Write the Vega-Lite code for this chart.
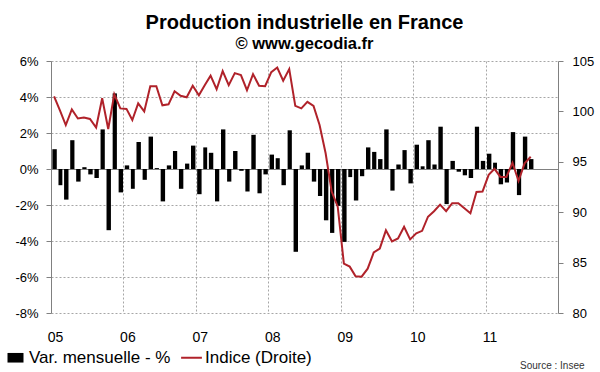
{
  "$schema": "https://vega.github.io/schema/vega-lite/v6.json",
  "width": 507,
  "height": 252,
  "autosize": "none",
  "padding": {"left": 51, "top": 61, "right": 42, "bottom": 59},
  "background": "white",
  "title": {
    "text": "Production industrielle en France",
    "subtitle": "© www.gecodia.fr",
    "anchor": "middle",
    "frame": "group",
    "font": "Liberation Sans",
    "fontSize": 20,
    "fontWeight": "bold",
    "color": "#000000",
    "subtitleFont": "Liberation Sans",
    "subtitleFontSize": 16.5,
    "subtitleFontWeight": "bold",
    "subtitleColor": "#000000",
    "subtitlePadding": 3,
    "offset": 3
  },
  "config": {
    "view": {"stroke": null},
    "axis": {
      "labelFont": "Liberation Sans",
      "labelColor": "#000000",
      "domainColor": "#808080",
      "tickColor": "#808080",
      "gridColor": "#a6a6a6",
      "gridDash": [2, 2]
    }
  },
  "data": {
    "values": [
      {"date": "2005-01-01", "var": 1.1, "idx": 101.5},
      {"date": "2005-02-01", "var": -0.9, "idx": 100.1},
      {"date": "2005-03-01", "var": -1.7, "idx": 98.65},
      {"date": "2005-04-01", "var": 1.6, "idx": 100.2},
      {"date": "2005-05-01", "var": -0.7, "idx": 99.3},
      {"date": "2005-06-01", "var": 0.1, "idx": 99.4},
      {"date": "2005-07-01", "var": -0.3, "idx": 99.25},
      {"date": "2005-08-01", "var": -0.5, "idx": 98.4},
      {"date": "2005-09-01", "var": 2.2, "idx": 101.3},
      {"date": "2005-10-01", "var": -3.4, "idx": 98.25},
      {"date": "2005-11-01", "var": 4.2, "idx": 101.7},
      {"date": "2005-12-01", "var": -1.3, "idx": 100.3},
      {"date": "2006-01-01", "var": 0.2, "idx": 100.25},
      {"date": "2006-02-01", "var": -1.1, "idx": 99.15},
      {"date": "2006-03-01", "var": 1.5, "idx": 100.8},
      {"date": "2006-04-01", "var": -0.6, "idx": 100.0},
      {"date": "2006-05-01", "var": 1.8, "idx": 102.5},
      {"date": "2006-06-01", "var": 0.05, "idx": 102.5},
      {"date": "2006-07-01", "var": -1.8, "idx": 100.6},
      {"date": "2006-08-01", "var": 0.2, "idx": 100.7},
      {"date": "2006-09-01", "var": 1.0, "idx": 102.0},
      {"date": "2006-10-01", "var": -1.1, "idx": 101.55},
      {"date": "2006-11-01", "var": 0.3, "idx": 101.4},
      {"date": "2006-12-01", "var": 1.3, "idx": 102.55},
      {"date": "2007-01-01", "var": -1.4, "idx": 101.6},
      {"date": "2007-02-01", "var": 1.2, "idx": 102.6},
      {"date": "2007-03-01", "var": 0.9, "idx": 103.55},
      {"date": "2007-04-01", "var": -1.8, "idx": 102.2},
      {"date": "2007-05-01", "var": 2.2, "idx": 104.0},
      {"date": "2007-06-01", "var": -0.7, "idx": 102.6},
      {"date": "2007-07-01", "var": 1.0, "idx": 103.8},
      {"date": "2007-08-01", "var": -0.1, "idx": 103.6},
      {"date": "2007-09-01", "var": -1.25, "idx": 102.1},
      {"date": "2007-10-01", "var": 1.9, "idx": 103.7},
      {"date": "2007-11-01", "var": -1.35, "idx": 102.55},
      {"date": "2007-12-01", "var": -0.3, "idx": 102.5},
      {"date": "2008-01-01", "var": 0.8, "idx": 103.9},
      {"date": "2008-02-01", "var": 0.6, "idx": 104.35},
      {"date": "2008-03-01", "var": -0.9, "idx": 103.05},
      {"date": "2008-04-01", "var": 2.15, "idx": 104.2},
      {"date": "2008-05-01", "var": -4.6, "idx": 100.55},
      {"date": "2008-06-01", "var": 0.2, "idx": 100.3},
      {"date": "2008-07-01", "var": 0.9, "idx": 100.95},
      {"date": "2008-08-01", "var": -0.7, "idx": 100.55},
      {"date": "2008-09-01", "var": -1.5, "idx": 98.65},
      {"date": "2008-10-01", "var": -2.85, "idx": 95.85},
      {"date": "2008-11-01", "var": -3.55, "idx": 92.05},
      {"date": "2008-12-01", "var": -2.05, "idx": 90.55},
      {"date": "2009-01-01", "var": -4.05, "idx": 84.9},
      {"date": "2009-02-01", "var": -0.45, "idx": 84.6},
      {"date": "2009-03-01", "var": -1.75, "idx": 83.65},
      {"date": "2009-04-01", "var": -0.4, "idx": 83.6},
      {"date": "2009-05-01", "var": 1.2, "idx": 84.4},
      {"date": "2009-06-01", "var": 0.95, "idx": 86.0},
      {"date": "2009-07-01", "var": 0.55, "idx": 86.4},
      {"date": "2009-08-01", "var": 2.2, "idx": 88.2},
      {"date": "2009-09-01", "var": -1.2, "idx": 87.1},
      {"date": "2009-10-01", "var": 0.25, "idx": 87.4},
      {"date": "2009-11-01", "var": 1.05, "idx": 88.55},
      {"date": "2009-12-01", "var": -0.8, "idx": 87.3},
      {"date": "2010-01-01", "var": 1.35, "idx": 87.9},
      {"date": "2010-02-01", "var": 0.15, "idx": 88.15},
      {"date": "2010-03-01", "var": 1.6, "idx": 89.55},
      {"date": "2010-04-01", "var": 0.25, "idx": 90.1},
      {"date": "2010-05-01", "var": 2.35, "idx": 90.75},
      {"date": "2010-06-01", "var": -1.95, "idx": 90.1},
      {"date": "2010-07-01", "var": 0.45, "idx": 90.9},
      {"date": "2010-08-01", "var": -0.15, "idx": 90.9},
      {"date": "2010-09-01", "var": -0.35, "idx": 90.4},
      {"date": "2010-10-01", "var": -0.5, "idx": 89.9},
      {"date": "2010-11-01", "var": 2.35, "idx": 92.0},
      {"date": "2010-12-01", "var": 0.45, "idx": 92.05},
      {"date": "2011-01-01", "var": 0.85, "idx": 93.7},
      {"date": "2011-02-01", "var": 0.35, "idx": 94.3},
      {"date": "2011-03-01", "var": -0.85, "idx": 93.5},
      {"date": "2011-04-01", "var": -0.75, "idx": 93.5},
      {"date": "2011-05-01", "var": 2.05, "idx": 94.9},
      {"date": "2011-06-01", "var": -1.45, "idx": 93.1},
      {"date": "2011-07-01", "var": 1.8, "idx": 94.85},
      {"date": "2011-08-01", "var": 0.55, "idx": 95.5}
    ]
  },
  "layer": [
    {
      "mark": {"type": "bar", "width": {"band": 0.88}, "color": "#000000"},
      "encoding": {
        "x": {
          "field": "date",
          "type": "temporal",
          "timeUnit": "utcyearmonth",
          "scale": {
            "type": "utc",
            "domain": [
              {"year": 2005, "month": 1, "date": 1, "utc": true},
              {"year": 2012, "month": 1, "date": 1, "utc": true}
            ]
          },
          "axis": {
            "orient": "bottom",
            "domain": false,
            "ticks": false,
            "tickSize": 0,
            "grid": true,
            "gridColor": "#a6a6a6",
            "gridDash": [2, 2],
            "values": [
              {"year": 2005, "month": 1, "date": 1, "utc": true},
              {"year": 2006, "month": 1, "date": 1, "utc": true},
              {"year": 2007, "month": 1, "date": 1, "utc": true},
              {"year": 2008, "month": 1, "date": 1, "utc": true},
              {"year": 2009, "month": 1, "date": 1, "utc": true},
              {"year": 2010, "month": 1, "date": 1, "utc": true},
              {"year": 2011, "month": 1, "date": 1, "utc": true}
            ],
            "labelExpr": "utcFormat(datum.value, '%y')",
            "labelFontSize": 14,
            "labelPadding": 17,
            "labelOffset": 4,
            "labelAlign": "center",
            "title": "Source : Insee",
            "titleFont": "Liberation Sans",
            "titleFontSize": 10,
            "titleFontWeight": "normal",
            "titleColor": "#333333",
            "titleAlign": "right",
            "titleAnchor": "end",
            "titleX": 533,
            "titleY": 55,
            "titleBaseline": "alphabetic"
          }
        },
        "y": {
          "field": "var",
          "type": "quantitative",
          "scale": {"domain": [-8, 6], "nice": false, "zero": true},
          "axis": {
            "orient": "left",
            "title": null,
            "values": [-8, -6, -4, -2, 0, 2, 4, 6],
            "labelExpr": "datum.value + '%'",
            "labelFontSize": 13,
            "labelPadding": 8,
            "tickSize": 5,
            "grid": true,
            "gridColor": {"condition": {"test": "datum.value === 0", "value": "#808080"}, "value": "#a6a6a6"},
            "gridDash": {"condition": {"test": "datum.value === 0", "value": []}, "value": [2, 2]}
          }
        },
        "color": {
          "datum": "Var. mensuelle - %",
          "scale": {
            "domain": ["Var. mensuelle - %", "Indice (Droite)"],
            "range": ["#000000", "#b0222a"]
          },
          "legend": {
            "orient": "none",
            "legendX": -44,
            "legendY": 288,
            "direction": "horizontal",
            "title": null,
            "padding": 0,
            "labelFont": "Liberation Sans",
            "labelFontSize": 17,
            "labelColor": "#000000",
            "symbolSize": 256,
            "labelOffset": 5,
            "columnPadding": 6,
            "encode": {
              "symbols": {
                "update": {
                  "shape": {"signal": "datum.value === 'Indice (Droite)' ? 'M-1.3,0H1.3' : 'M-1,-0.6H1V0.6H-1Z'"},
                  "fill": {"signal": "datum.value === 'Indice (Droite)' ? 'transparent' : '#000000'"},
                  "stroke": {"signal": "datum.value === 'Indice (Droite)' ? '#b0222a' : '#000000'"},
                  "strokeWidth": {"signal": "datum.value === 'Indice (Droite)' ? 2 : 0"},
                  "opacity": {"value": 1}
                }
              }
            }
          }
        }
      }
    },
    {
      "mark": {"type": "line", "strokeWidth": 2},
      "encoding": {
        "x": {
          "field": "date",
          "type": "temporal",
          "timeUnit": "utcyearmonth",
          "bandPosition": 0.5,
          "scale": {
            "type": "utc",
            "domain": [
              {"year": 2005, "month": 1, "date": 1, "utc": true},
              {"year": 2012, "month": 1, "date": 1, "utc": true}
            ]
          }
        },
        "y": {
          "field": "idx",
          "type": "quantitative",
          "scale": {"domain": [80, 105], "nice": false, "zero": false},
          "axis": {
            "orient": "right",
            "title": null,
            "values": [80, 85, 90, 95, 100, 105],
            "labelFontSize": 13,
            "labelPadding": 9,
            "tickSize": 5,
            "grid": false
          }
        },
        "color": {"datum": "Indice (Droite)"}
      }
    }
  ],
  "resolve": {"scale": {"y": "independent"}}
}
